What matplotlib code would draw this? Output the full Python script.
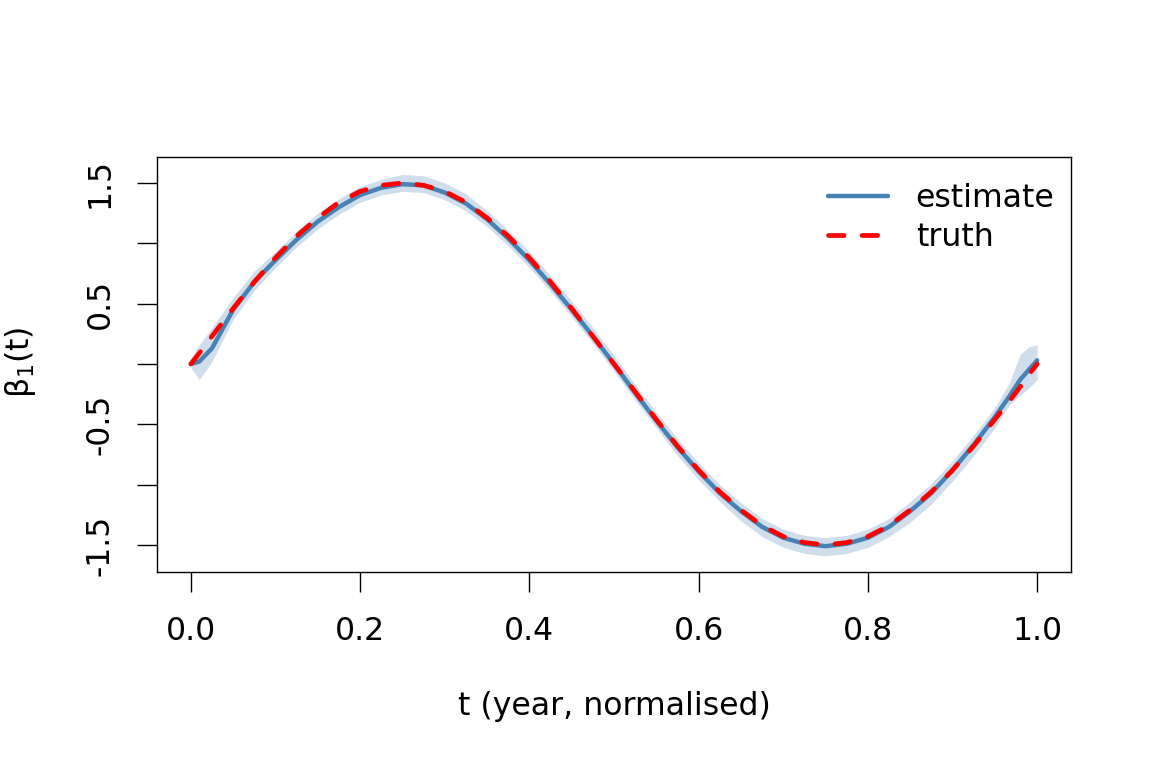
import numpy as np
import matplotlib
matplotlib.use("Agg")
import matplotlib.pyplot as plt
from matplotlib.ticker import FixedLocator, FixedFormatter

# values
t = [0, 0.01, 0.025, 0.05, 0.075, 0.1, 0.125, 0.15, 0.175, 0.2, 0.225, 0.25,
     0.275, 0.3, 0.325, 0.35, 0.375, 0.4, 0.425, 0.45, 0.475, 0.5, 0.525, 0.55,
     0.575, 0.6, 0.625, 0.65, 0.675, 0.7, 0.725, 0.75, 0.775, 0.8, 0.825, 0.85,
     0.875, 0.9, 0.925, 0.95, 0.967, 0.98, 0.99, 1.0]

truth = [0.0, 0.09, 0.23, 0.46, 0.68, 0.88, 1.06, 1.21, 1.34, 1.43, 1.48, 1.50,
         1.48, 1.43, 1.34, 1.21, 1.06, 0.88, 0.68, 0.46, 0.23, 0.0, -0.23, -0.46,
         -0.68, -0.88, -1.06, -1.21, -1.34, -1.43, -1.48, -1.50, -1.48, -1.43, -1.34, -1.21,
         -1.06, -0.88, -0.68, -0.46, -0.31, -0.19, -0.09, 0.0]

estimate = [0.0, 0.02, 0.13, 0.45, 0.68, 0.86, 1.03, 1.18, 1.30, 1.40, 1.46, 1.49,
            1.48, 1.42, 1.33, 1.20, 1.04, 0.86, 0.66, 0.45, 0.23, 0.0, -0.24, -0.47,
            -0.69, -0.89, -1.07, -1.22, -1.35, -1.44, -1.49, -1.51, -1.49, -1.44, -1.35, -1.22,
            -1.07, -0.88, -0.67, -0.44, -0.27, -0.13, -0.05, 0.03]

lower = [-0.03, -0.13, 0.02, 0.37, 0.61, 0.80, 0.97, 1.12, 1.24, 1.34, 1.40, 1.43,
         1.42, 1.36, 1.27, 1.14, 0.98, 0.80, 0.60, 0.39, 0.17, -0.06, -0.30, -0.53,
         -0.76, -0.96, -1.14, -1.30, -1.43, -1.52, -1.57, -1.59, -1.57, -1.52, -1.43, -1.31,
         -1.16, -0.97, -0.76, -0.53, -0.34, -0.26, -0.20, -0.13]

upper = [0.04, 0.16, 0.30, 0.55, 0.77, 0.93, 1.10, 1.25, 1.37, 1.47, 1.53, 1.57,
         1.56, 1.50, 1.41, 1.27, 1.11, 0.93, 0.73, 0.52, 0.30, 0.07, -0.17, -0.40,
         -0.62, -0.82, -1.00, -1.15, -1.28, -1.37, -1.42, -1.44, -1.42, -1.37, -1.28, -1.14,
         -0.99, -0.80, -0.59, -0.36, -0.16, 0.08, 0.14, 0.16]

xticks = [0.0, 0.2, 0.4, 0.6, 0.8, 1.0]
xticklabels = ["0.0", "0.2", "0.4", "0.6", "0.8", "1.0"]
yticks = [-1.5, -1.0, -0.5, 0.0, 0.5, 1.0, 1.5]
yticklabels = ["-1.5", "", "-0.5", "", "0.5", "", "1.5"]

fs = 22.7
plt.rcParams['font.family'] = ['DejaVu Sans']

fig = plt.figure(figsize=(11.52, 7.68), dpi=100)
ax = fig.add_axes([157 / 1152, 1 - 572 / 768, 914 / 1152, 415 / 768])

ax.fill_between(t, lower, upper, color='#D0DEEC', linewidth=0)
ax.plot(t, estimate, color='#4682B4', lw=3.2, solid_capstyle='round',
        label='estimate')
ax.plot(t, truth, color='red', lw=3.4, dashes=(3.3, 3.8), dash_capstyle='round',
        label='truth')

ax.set_xlim(-0.04, 1.04)
ax.set_ylim(-1.724, 1.715)

ax.xaxis.set_major_locator(FixedLocator(xticks))
ax.xaxis.set_major_formatter(FixedFormatter(xticklabels))
ax.yaxis.set_major_locator(FixedLocator(yticks))
ax.yaxis.set_major_formatter(FixedFormatter(yticklabels))
ax.tick_params(axis='both', direction='out', length=14.4, width=1.0,
               labelsize=fs, color='black')
ax.tick_params(axis='x', pad=17.5)
ax.tick_params(axis='y', pad=15.5)
plt.setp(ax.get_yticklabels(), rotation=90, va='center')
for s in ax.spines.values():
    s.set_linewidth(1.0)

fig.text(614 / 1152, 1 - 707 / 768, 't (year, normalised)', fontsize=fs,
         ha='center', va='center')
fig.text(20 / 1152, 1 - 362 / 768, r'β$_1$(t)', fontsize=fs,
         ha='center', va='center', rotation=90)

ax.legend(loc='upper left', bbox_to_anchor=((828 - 157) / 914, 0.937),
          frameon=False, fontsize=fs, handlelength=1.9, handletextpad=0.88,
          borderpad=0, borderaxespad=0, labelspacing=0.26)

fig.savefig('out.png', dpi=100)
